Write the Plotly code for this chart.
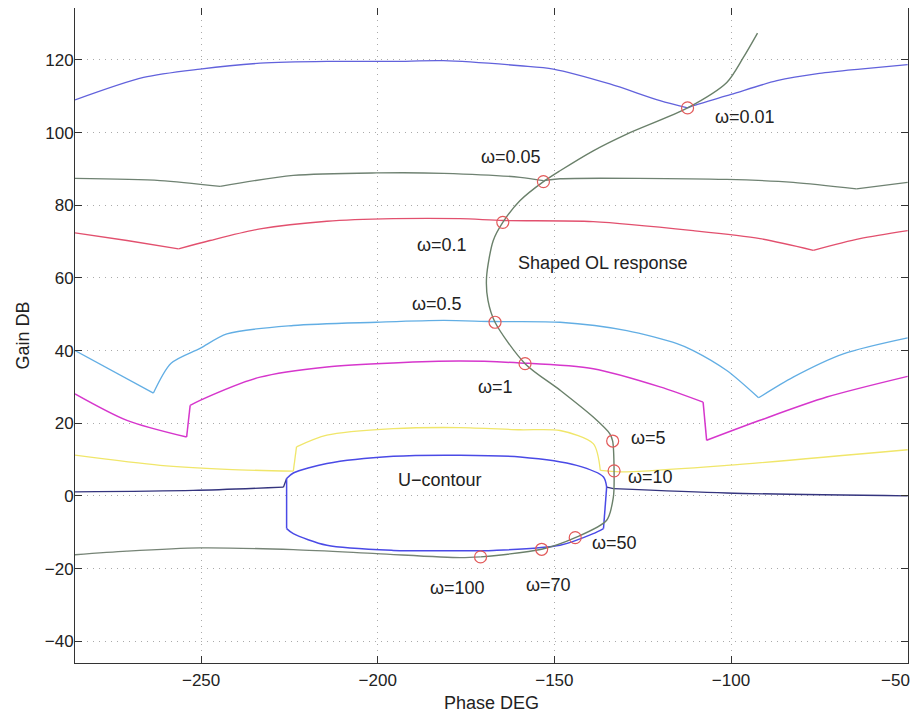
import plotly.graph_objects as go

# ---- data (Phase deg, Gain dB) ----
b001_x = [-285.7, -266.3, -250.3, -233.3, -214.4, -195.6, -181.4, -159.7, -150.3, -134.3, -120.1, -112.3, -110.7, -100, -87, -75, -63.5, -50]
b001_y = [109.0, 115.2, 117.5, 119.1, 119.6, 119.6, 119.8, 118.4, 117.5, 113.4, 108.8, 106.8, 107.4, 110.5, 114.3, 116.3, 117.5, 118.7]
b001_breaks = [11]

b005_x = [-285.7, -261.6, -244.6, -223.9, -200.3, -181.4, -159.7, -153.1, -148.4, -101.2, -82.4, -64.5, -50]
b005_y = [87.4, 86.8, 85.2, 88.2, 88.9, 88.8, 87.7, 86.8, 87.3, 87.1, 86.3, 84.5, 86.3]
b005_breaks = [2, 7, 11]

b01_x = [-285.7, -271, -256.4, -247.5, -233.3, -214.4, -195.6, -176.7, -164.4, -139, -110.7, -91.8, -76.7, -63.5, -50]
b01_y = [72.4, 70.3, 68.0, 70.3, 73.5, 75.6, 76.3, 76.3, 75.8, 75.5, 73.0, 70.8, 67.6, 70.8, 73.0]
b01_breaks = [2, 12]

b05_x = [-285.7, -263.5, -258.5, -250.3, -242.7, -223.9, -200.3, -181.4, -167.3, -148.4, -129.5, -115.3, -110.7, -101.2, -92.2, -82.4, -68.2, -50]
b05_y = [40.0, 28.3, 36.5, 40.6, 44.6, 46.9, 47.8, 48.3, 48.0, 47.8, 45.5, 41.9, 40.0, 34.5, 27.0, 32.7, 39.1, 43.5]
b05_breaks = [1, 14]

b1_x = [-285.7, -271, -254.1, -253.1, -250.3, -233.3, -214.4, -195.6, -176.7, -159.7, -139, -120.1, -107.9, -106.9, -91.8, -72.9, -50]
b1_y = [28.1, 20.8, 16.2, 24.9, 26.3, 32.7, 35.5, 36.6, 37.1, 36.6, 35.0, 30.0, 25.8, 15.3, 20.8, 27.2, 32.9]
b1_breaks = [2, 3, 12, 13]

b5_x = [-285.7, -261.6, -242.7, -223.9, -223.0, -214.4, -195.6, -176.7, -159.7, -148.4, -139, -137, -131.4, -101.2, -50]
b5_y = [11.2, 8.4, 7.3, 6.8, 13.5, 16.7, 18.5, 18.8, 18.2, 18.0, 14.4, 7.0, 6.6, 8.4, 12.7]
b5_breaks = [3, 4, 11]

b10l_x = [-285.7, -252.2, -226.7, -225.8]
b10l_y = [1.1, 1.5, 2.4, 4.8]
b10r_x = [-135.2, -133.3, -101.2, -50]
b10r_y = [2.4, 2.0, 0.8, 0.0]

u_x = [-225.8, -223.9, -214.4, -195.6, -176.7, -159.7, -143.7, -136.1, -135.2, -136.1, -139, -148.4, -167.3, -176.7, -195.6, -214.4, -223.9, -225.8, -225.8]
u_y = [4.8, 6.3, 8.9, 10.9, 11.2, 10.7, 8.4, 5.2, 2.4, -9.0, -10.4, -13.6, -15.0, -15.1, -15.0, -13.6, -10.4, -9.0, 4.8]
u_breaks = [8, 9, 17]

b100_x = [-285.7, -271, -250.3, -223.9, -200.3, -176.7, -170.9]
b100_y = [-16.2, -15.2, -14.3, -14.8, -15.9, -17.0, -16.8]

ol_x = [-92.5, -96.5, -101.2, -112.3, -129.5, -139, -148.4, -153.1, -159.7, -164.6, -167.3, -169.2, -168.8, -166.8, -158.3, -148.4, -139, -134.3, -133.5, -133.1, -133.3, -135.2, -144.1, -153.6, -170.9]
ol_y = [127.4, 120.7, 113.8, 106.8, 99.6, 95.0, 89.5, 86.5, 81.3, 75.3, 70.3, 60.2, 53.8, 47.8, 36.4, 29.1, 21.7, 17.1, 15.1, 6.9, -0.3, -6.7, -11.5, -14.7, -16.8]

pts_x = [-112.3, -153.1, -164.6, -166.8, -158.3, -133.5, -133.1, -144.1, -153.6, -170.9]
pts_y = [106.8, 86.5, 75.3, 47.8, 36.4, 15.1, 6.9, -11.5, -14.7, -16.8]

lbl_text = ["ω=0.01", "ω=0.05", "ω=0.1", "ω=0.5", "ω=1", "ω=5", "ω=10", "ω=50", "ω=70", "ω=100", "U−contour", "Shaped OL response"]
lbl_x = [-96.1, -162.3, -181.8, -183.2, -166.8, -123.5, -122.7, -133.1, -151.8, -177.5, -182.4, -136.5]
lbl_y = [104.2, 93.4, 69.2, 52.7, 29.9, 15.9, 5.2, -12.9, -24.5, -25.4, 4.5, 64.0]

x_ticks = [-250, -200, -150, -100, -50]
x_ticktext = ["−250", "−200", "−150", "−100", "−50"]
y_ticks = [-40, -20, 0, 20, 40, 60, 80, 100, 120]

FONT = "Liberation Sans, Arial, sans-serif"
fig = go.Figure()


def curve(x, y, color, w=1.3, breaks=()):
    cuts = [0] + list(breaks) + [len(x) - 1]
    for a, b in zip(cuts[:-1], cuts[1:]):
        fig.add_trace(go.Scatter(x=x[a:b + 1], y=y[a:b + 1], mode="lines",
                                 line=dict(color=color, width=w, shape="spline", smoothing=0.8),
                                 hoverinfo="skip"))


curve(b001_x, b001_y, "#6262dc", breaks=b001_breaks)
curve(b005_x, b005_y, "#6f8272", breaks=b005_breaks)
curve(b01_x, b01_y, "#e2506e", breaks=b01_breaks)
curve(b05_x, b05_y, "#62aee4", breaks=b05_breaks)
curve(b1_x, b1_y, "#d636cc", 1.5, breaks=b1_breaks)
curve(b5_x, b5_y, "#f0e66a", breaks=b5_breaks)
curve(b10l_x, b10l_y, "#34347e", breaks=[2])
curve(b10r_x, b10r_y, "#34347e", breaks=[1])
curve(u_x, u_y, "#4a4ae6", 1.5, breaks=u_breaks)
curve(b100_x, b100_y, "#768476")
curve(ol_x, ol_y, "#6a806a", 1.4)

fig.add_trace(go.Scatter(x=pts_x, y=pts_y, mode="markers",
                         marker=dict(symbol="circle-open", size=12, color="#e25a5a", line=dict(width=1.2)),
                         hoverinfo="skip"))

for t, x, y in zip(lbl_text, lbl_x, lbl_y):
    fig.add_annotation(x=x, y=y, text=t, showarrow=False, xref="x", yref="y",
                       font=dict(family=FONT, size=18, color="#222222"))

# last x tick label sits against the right edge (as in the reference), drawn shifted inward
fig.add_annotation(x=x_ticks[-1], y=0, xref="x", yref="paper", text=x_ticktext[-1],
                   showarrow=False, xanchor="right", yanchor="top", xshift=4, yshift=-6,
                   font=dict(family=FONT, size=17, color="#222222"))

axis_common = dict(showline=True, linecolor="#333333", linewidth=1, mirror="ticks",
                   ticks="inside", ticklen=7, tickcolor="#333333",
                   showgrid=True, gridcolor="#aaaaaa", griddash="1px,5px", gridwidth=1,
                   zeroline=False, automargin=False,
                   tickfont=dict(family=FONT, size=17, color="#222222"),
                   title_font=dict(family=FONT, size=18, color="#222222"))

fig.update_xaxes(range=[-285.7, -49.9], tickvals=x_ticks, ticktext=x_ticktext[:-1] + [""],
                 title_text="Phase DEG", title_standoff=6, ticklabelstandoff=2, **axis_common)
fig.update_yaxes(range=[-46, 134.3], tickvals=y_ticks, title_text="Gain DB",
                 title_standoff=10, ticklabelstandoff=-3, **axis_common)

# the page body adds an 8px margin, so the figure is sized to fit the 921x713 window
fig.update_layout(width=913, height=705, margin=dict(l=67, r=13, t=0, b=50),
                  plot_bgcolor="white", paper_bgcolor="white", showlegend=False)

fig.write_html("out.html")
